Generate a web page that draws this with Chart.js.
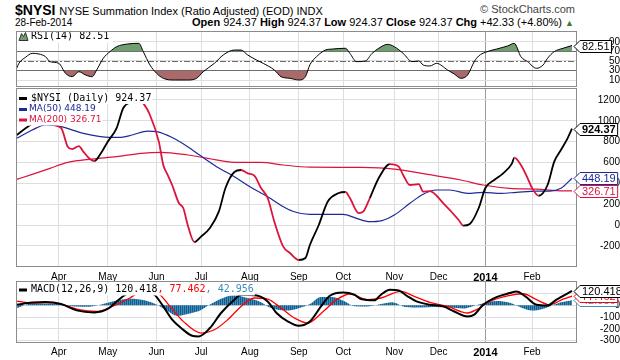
<!DOCTYPE html>
<html lang="en">
<head>
<meta charset="UTF-8">
<title>$NYSI NYSE Summation Index</title>
<script src="https://cdn.jsdelivr.net/npm/chart.js"></script>
<style>
  body { margin: 0; background: #fff; font-family: "Liberation Sans", Arial, sans-serif; }
  #wrap { position: relative; width: 620px; height: 360px; overflow: hidden; }
  canvas { position: absolute; left: 0; }
  .t { position: absolute; white-space: nowrap; color: #000; }
</style>
</head>
<body>
<div id="wrap">
  <div class="t" style="left:15px;top:2px;font-size:14px;"><b>$NYSI</b> <span style="font-size:11px">NYSE Summation Index (Ratio Adjusted) (EOD) INDX</span></div>
  <div class="t" style="right:45px;top:3px;font-size:11px;color:#444">&copy; StockCharts.com</div>
  <div class="t" style="left:15px;top:17px;font-size:10px">28-Feb-2014</div>
  <div class="t" style="right:46px;top:16px;font-size:11px"><b>Open</b> 924.37 <b>High</b> 924.37 <b>Low</b> 924.37 <b>Close</b> 924.37 <b>Chg</b> +42.33 (+4.80%) <span style="color:#3c7a3c;font-size:9px">&#9650;</span></div>
  <canvas id="rsiChart" width="620" height="58" style="top:30px"></canvas>
  <canvas id="priceChart" width="620" height="195" style="top:87px"></canvas>
  <canvas id="macdChart" width="620" height="80" style="top:280px"></canvas>
</div>

<script>
// x axis: trading-day index, Mar 2013 .. 28 Feb 2014
const months = ['Apr', 'May', 'Jun', 'Jul', 'Aug', 'Sep', 'Oct', 'Nov', 'Dec', '2014', 'Feb'];
const monthIdx = [19, 41, 63, 83, 105, 127, 147, 170, 190, 211, 232];

// $NYSI daily close
const priceIdx = [0,5,9,12,20,23,25,28,30,33,35,38,41,45,48,52,54,57,60,64,66,68,70,73,75,77,80,83,87,91,94,98,101,104,107,110,113,116,120,123,127,130,132,136,140,145,148,150,154,156,159,163,168,172,174,177,181,183,186,192,199,201,204,208,211,215,219,223,224,227,230,232,235,239,242,245,248,250];
const priceVals = [864,943,990,979,931,752,729,758,704,633,614,691,800,930,1123,1184,1205,1168,1056,800,576,480,384,211,163,0,-163,-112,-29,128,355,509,528,496,473,355,259,32,-208,-269,-336,-317,-192,0,224,307,317,259,115,128,259,451,585,560,480,384,393,320,326,211,48,-6,10,163,355,432,496,592,646,576,451,355,281,384,608,720,832,924.37];
// falling legs drawn in red
const fallLegs = [[9, 35], [54, 80], [101, 127], [148, 157], [168, 201], [224, 235]];

const ma50Idx = [0,7,13,20,30,42,47,52,59,63,70,77,83,90,98,105,113,120,124,132,147,153,159,164,170,177,183,189,195,203,210,218,225,234,240,245,250];
const ma50Vals = [832,912,960,944,880,842,842,864,902,896,840,752,662,560,464,368,272,176,134,103,103,64,32,40,96,208,295,336,336,304,314,304,314,326,326,352,448.19];

const ma200Idx = [0,7,15,23,34,45,56,65,77,86,98,110,120,132,155,170,185,200,210,222,234,243,250];
const ma200Vals = [438,486,544,601,633,656,688,697,672,640,601,601,576,556,553,537,486,432,384,352,345,330,326.71];

// RSI(14)
const rsiIdx = [0,1,4,7,10,13,15,19,22,25,28,31,34,36,39,42,45,50,55,57,60,63,66,71,77,81,84,89,93,98,101,104,108,111,116,119,123,127,130,132,135,139,142,148,150,153,157,160,163,167,170,174,178,181,183,186,189,194,197,200,203,206,208,211,216,221,224,227,230,234,237,239,242,246,250];
const rsiVals = [34.6,45,57.8,66,64.7,59,48.6,45,24,17,27.5,20.5,17,31,55.7,69.6,80,85.8,87,69.6,41.6,24,13.6,10,10,13.6,27.5,45,62.6,73,73,62.6,52,45,31,17,13.6,10,17,42,59,73,75,76.7,66,48.6,50,66,76.7,85,80,66,48.6,50,41.6,39.5,45,31,22.6,13.6,20.5,48.6,60.5,68.3,75,81.6,87,59,48.6,34.6,41.6,55.7,69.6,76.7,82.51];

// MACD(12,26,9)
const macdIdx = [0,7,13,20,27,35,41,45,49,55,62,66,70,74,79,82,87,92,98,101,108,113,117,122,127,132,137,141,147,152,155,161,164,168,172,176,180,186,192,197,203,206,210,216,222,225,229,234,239,243,250];
const macdVals = [5,22,27,10,-44,-61,-32,32,89,125,89,-10,-123,-193,-258,-264,-193,-66,47,89,83,32,-66,-137,-174,-137,-10,80,108,89,52,41,89,131,125,75,32,4,-10,-53,-95,-80,4,69,103,117,75,4,-2,47,120.418];
const sigIdx = [0,7,13,20,28,36,43,51,55,63,69,75,83,89,95,101,107,113,119,125,131,138,144,150,158,164,173,179,186,194,203,207,213,221,228,234,240,246,250];
const sigVals = [35,18,22,10,-38,-53,-10,61,103,103,-10,-137,-236,-208,-123,-10,61,52,-24,-108,-151,-53,47,95,47,61,117,75,24,-10,-66,-38,32,80,97,47,4,52,77.462];
const histIdx = [0,3,6,13,20,26,33,38,44,51,58,63,68,72,78,83,87,92,98,104,110,114,121,127,132,137,142,148,152,158,164,169,175,182,188,195,201,205,211,216,222,227,232,235,240,245,250];
const histVals = [-25,-5,12,15,8,-10,-12,5,35,55,40,5,-50,-90,-70,-40,5,55,85,60,25,-20,-45,-25,10,70,70,30,-8,-10,10,25,-15,-20,-15,-20,-28,-10,20,35,20,-20,-45,-40,-10,25,42.956];

// y axis ticks
const rsiTicks = [10, 30, 50, 70, 90];
const priceTicks = [-200, 0, 200, 400, 600, 800, 1000, 1200];
const macdTicks = [-300, -200, -100, 0, 100];

const SANS = '"Liberation Sans", Arial, sans-serif';
const MONO = '"DejaVu Sans Mono", monospace';
const VERD = '"DejaVu Sans", Verdana, sans-serif';
const RED = '#dc143c';
const NAVY = '#1c2a96';
const GREEN = '#6f9f70';
const BROWN = '#a86a6a';
const HISTBLUE = '#3b8cc0';

const xMin = -0.3, xMax = 252.25;

function pts(xs, ys) {
    return xs.map((x, i) => ({ x: x, y: ys[i] }));
}

function noPad(s) {
    s.paddingTop = 0; s.paddingBottom = 0; s.paddingLeft = 0; s.paddingRight = 0;
}

function xScale(showLabels, h, pad) {
    return {
        type: 'linear', min: xMin, max: xMax,
        afterBuildTicks: s => { s.ticks = monthIdx.map(v => ({ value: v })); },
        afterFit: s => { s.height = h; noPad(s); },
        grid: { color: c => (c.tick && c.tick.value === 211) ? '#9a9a9a' : '#dedede', drawTicks: false },
        border: { display: false },
        ticks: {
            display: showLabels, autoSkip: false, maxRotation: 0, minRotation: 0, padding: pad, color: '#000',
            font: c => (c.tick && c.tick.value === 211) ? { family: SANS, size: 11, weight: 'bold' } : { family: SANS, size: 10 },
            callback: (v, i) => months[i]
        }
    };
}

function yScale(min, max, ticks, size, pad) {
    return {
        type: 'linear', position: 'right', min: min, max: max,
        afterBuildTicks: s => { s.ticks = ticks.map(v => ({ value: v })); },
        afterFit: s => { s.width = 43; noPad(s); },
        grid: { color: '#dedede', drawTicks: false },
        border: { display: false },
        ticks: { autoSkip: false, crossAlign: 'far', padding: pad, color: '#000', font: { family: SANS, size: size }, callback: v => String(v) }
    };
}

function baseOptions(layoutPad) {
    return {
        responsive: false, animation: false, events: [],
        layout: { padding: layoutPad },
        elements: { point: { radius: 0 }, line: { cubicInterpolationMode: 'monotone' } },
        plugins: { legend: { display: false }, tooltip: { enabled: false } }
    };
}

// label with white box behind it; parts = [[text, color], ...]
function label(ctx, x, y, parts, font) {
    ctx.font = font;
    ctx.textBaseline = 'middle';
    ctx.textAlign = 'left';
    let w = 0;
    parts.forEach(p => { w += ctx.measureText(p[0]).width; });
    ctx.fillStyle = '#fff';
    ctx.fillRect(x - 1, y - 6, w + 2, 12);
    let cx = x;
    parts.forEach(p => {
        ctx.fillStyle = p[1];
        ctx.fillText(p[0], cx, y);
        cx += ctx.measureText(p[0]).width;
    });
}

function dash(ctx, x, y, color) {
    ctx.fillStyle = '#fff';
    ctx.fillRect(x - 1, y - 6, 12, 12);
    ctx.fillStyle = color;
    ctx.fillRect(x, y - 1, 8, 3);
}

// value tag on the right axis
function tag(chart, value, text, color, bold) {
    const ctx = chart.ctx;
    const x = chart.chartArea.right - 3;
    const y = Math.round(chart.scales.y.getPixelForValue(value)) + 0.5;
    ctx.font = (bold ? 'bold ' : '') + '11px ' + SANS;
    const w = ctx.measureText(text).width + 4;
    ctx.beginPath();
    ctx.moveTo(x, y);
    ctx.lineTo(x + 6, y - 6);
    ctx.lineTo(x + 6 + w, y - 6);
    ctx.lineTo(x + 6 + w, y + 6);
    ctx.lineTo(x + 6, y + 6);
    ctx.closePath();
    ctx.fillStyle = '#fff';
    ctx.fill();
    ctx.strokeStyle = color;
    ctx.lineWidth = 1;
    ctx.stroke();
    ctx.fillStyle = color;
    ctx.textBaseline = 'middle';
    ctx.textAlign = 'left';
    ctx.fillText(text, x + 8, y + 0.5);
}

function frame(chart) {
    const { ctx, chartArea: a } = chart;
    ctx.save();
    ctx.strokeStyle = '#8c8c8c';
    ctx.lineWidth = 1;
    ctx.strokeRect(Math.round(a.left) + 0.5, Math.round(a.top) + 0.5, Math.round(a.right - a.left) - 1, Math.round(a.bottom - a.top) - 1);
    ctx.restore();
}

// ---------- RSI ----------
new Chart(document.getElementById('rsiChart'), {
    type: 'line',
    data: {
        datasets: [
            {
                data: pts(rsiIdx, rsiVals), borderColor: '#000', borderWidth: 1,
                fill: { target: { value: 70 }, above: GREEN, below: 'rgba(0,0,0,0)' }
            },
            {
                data: pts(rsiIdx, rsiVals), borderColor: 'rgba(0,0,0,0)', borderWidth: 0,
                fill: { target: { value: 30 }, above: 'rgba(0,0,0,0)', below: BROWN }
            }
        ]
    },
    options: Object.assign(baseOptions({ left: 16, right: 0, top: 1, bottom: 1 }), {
        scales: { x: xScale(false, 0, 0), y: yScale(-4.7, 113, rsiTicks, 10, 0) }
    }),
    plugins: [{
        id: 'rsiDeco',
        beforeDatasetsDraw(chart) {
            const { ctx, chartArea: a, scales } = chart;
            ctx.save();
            ctx.strokeStyle = '#6a6a6a';
            ctx.lineWidth = 1;
            [70, 30].forEach(v => {
                const y = Math.round(scales.y.getPixelForValue(v)) + 0.5;
                ctx.beginPath(); ctx.moveTo(a.left, y); ctx.lineTo(a.right, y); ctx.stroke();
            });
            const y50 = Math.round(scales.y.getPixelForValue(50)) + 0.5;
            ctx.setLineDash([6, 2, 2, 2]);
            ctx.beginPath(); ctx.moveTo(a.left, y50); ctx.lineTo(a.right, y50); ctx.stroke();
            ctx.restore();
        },
        afterDatasetsDraw(chart) {
            const { ctx, chartArea: a } = chart;
            ctx.save();
            const y = a.top + 5.5;
            ctx.fillStyle = '#fff';
            ctx.fillRect(a.left + 1, y - 6, 96, 12);
            ctx.beginPath();
            ctx.moveTo(19, y + 4); ctx.lineTo(21.5, y - 3); ctx.lineTo(23.5, y); ctx.lineTo(25.5, y - 4); ctx.lineTo(28, y + 4);
            ctx.closePath();
            ctx.fillStyle = GREEN; ctx.fill();
            ctx.strokeStyle = '#333'; ctx.lineWidth = 1; ctx.stroke();
            label(ctx, 31, y, [['RSI(14) 82.51', '#000']], '10px ' + MONO);
            ctx.restore();
        },
        afterDraw(chart) {
            frame(chart);
            chart.ctx.save();
            tag(chart, 82.51, '82.51', '#000', false);
            chart.ctx.restore();
        }
    }]
});

// ---------- Price ----------
function inFall(x) {
    return fallLegs.some(r => x >= r[0] && x < r[1]);
}

new Chart(document.getElementById('priceChart'), {
    type: 'line',
    data: {
        datasets: [
            {
                data: pts(priceIdx, priceVals), borderWidth: 1.8, borderColor: '#000',
                segment: { borderColor: c => inFall(c.p0.parsed.x) ? RED : '#000' }
            },
            { data: pts(ma50Idx, ma50Vals), borderColor: NAVY, borderWidth: 1.2 },
            { data: pts(ma200Idx, ma200Vals), borderColor: RED, borderWidth: 1.2 }
        ]
    },
    options: Object.assign(baseOptions({ left: 16, right: 0, top: 1, bottom: 0 }), {
        scales: { x: xScale(true, 15, 4), y: yScale(-403, 1315, priceTicks, 10, 4) }
    }),
    plugins: [{
        id: 'priceDeco',
        afterDatasetsDraw(chart) {
            const { ctx, chartArea: a } = chart;
            ctx.save();
            const t = a.top;
            dash(ctx, 19, t + 10, '#000');
            label(ctx, 31, t + 10, [['$NYSI (Daily) 924.37', '#000']], '10px ' + MONO);
            dash(ctx, 19, t + 21, NAVY);
            label(ctx, 29, t + 21, [['MA(50) 448.19', NAVY]], '9px ' + VERD);
            dash(ctx, 19, t + 31.5, RED);
            label(ctx, 29, t + 31.5, [['MA(200) 326.71', RED]], '9px ' + VERD);
            ctx.restore();
        },
        afterDraw(chart) {
            frame(chart);
            chart.ctx.save();
            tag(chart, 326.71, '326.71', RED, false);
            tag(chart, 448.19, '448.19', NAVY, false);
            tag(chart, 924.37, '924.37', '#000', true);
            chart.ctx.restore();
        }
    }]
});

// ---------- MACD ----------
const pc = document.createElement('canvas');
pc.width = 2; pc.height = 1;
const pctx = pc.getContext('2d');
pctx.fillStyle = '#1b5a85'; pctx.fillRect(0, 0, 1, 1);
pctx.fillStyle = '#3a8dc0'; pctx.fillRect(1, 0, 1, 1);
const histPattern = pctx.createPattern(pc, 'repeat');

new Chart(document.getElementById('macdChart'), {
    type: 'line',
    data: {
        datasets: [
            { data: pts(macdIdx, macdVals), borderColor: '#000', borderWidth: 2 },
            { data: pts(sigIdx, sigVals), borderColor: '#ff0000', borderWidth: 1.3 },
            { data: pts(histIdx, histVals), borderColor: 'rgba(0,0,0,0)', borderWidth: 0, backgroundColor: histPattern, fill: 'origin' }
        ]
    },
    options: Object.assign(baseOptions({ left: 16, right: 0, top: 1, bottom: 0 }), {
        scales: { x: xScale(true, 17, 3), y: yScale(-320, 205, macdTicks, 10, 3) }
    }),
    plugins: [{
        id: 'macdDeco',
        afterDatasetsDraw(chart) {
            const { ctx, chartArea: a } = chart;
            ctx.save();
            const y = a.top + 8.5;
            dash(ctx, 19, y, '#000');
            label(ctx, 31, y, [['MACD(12,26,9) 120.418', '#000'], [', 77.462', '#ff0000'], [', 42.956', HISTBLUE]], '10px ' + MONO);
            ctx.restore();
        },
        afterDraw(chart) {
            frame(chart);
            chart.ctx.save();
            tag(chart, 42.956, '42.956', HISTBLUE, false);
            tag(chart, 77.462, '77.462', '#ff0000', false);
            tag(chart, 120.418, '120.418', '#000', false);
            chart.ctx.restore();
        }
    }]
});
</script>
</body>
</html>
